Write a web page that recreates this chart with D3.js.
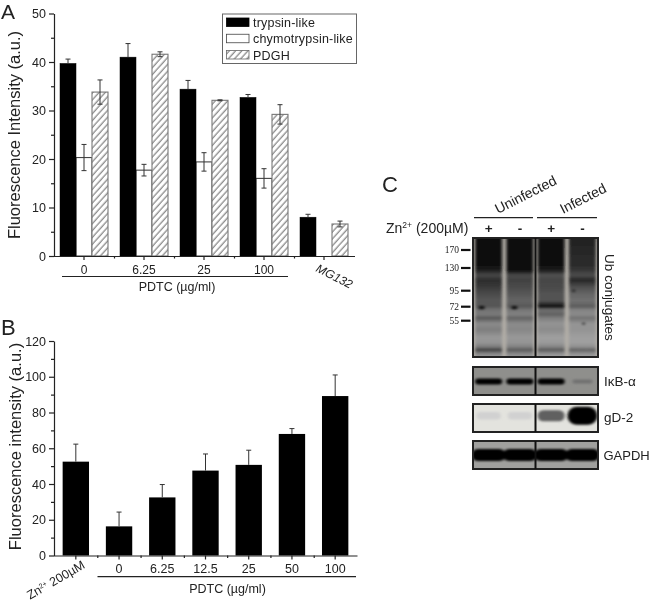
<!DOCTYPE html>
<html>
<head>
<meta charset="utf-8">
<script src="https://cdn.jsdelivr.net/npm/d3@7"></script>
<style>
	html, body { margin: 0; padding: 0; background: #fff; }
	svg { display: block; filter: blur(0.4px); }
	text { font-family: "Liberation Sans", Arial, sans-serif; fill: #222; }
	.domain, .tick line { stroke: #222; stroke-width: 1.2; }
</style>
</head>
<body>
<div id="chart"></div>
<script>
"use strict";

// == panel A data ==
var groupsA = ["0", "6.25", "25", "100", "MG132"];
var seriesA = ["trypsin-like", "chymotrypsin-like", "PDGH"];
var trypsin = [39.7, 41, 34.4, 32.7, 8];
var trypsinErr = [0.9, 2.8, 1.8, 0.6, 0.6];
var chymo = [20.3, 17.7, 19.4, 16, null]; // no white bar for MG132
var chymoErr = [2.7, 1.2, 1.9, 2, null];
var pdgh = [33.8, 41.6, 32.1, 29.2, 6.6];
var pdghErr = [2.5, 0.5, 0.1, 2, 0.6];

// == panel B data ==
var groupsB = ["Zn2+", "0", "6.25", "12.5", "25", "50", "100"];
var valuesB = [52.5, 16.3, 32.5, 47.5, 50.7, 68, 89.2];
var errB = [9.8, 8, 7.2, 9.3, 8.2, 3, 11.8];

// == panel C data ==
var lanes = ["U+", "U-", "I+", "I-"];
var laneSigns = ["+", "-", "+", "-"];
var markers = [170, 130, 95, 72, 55];
// signal darkness (0-1) down each lane of the Ub blot, read at these sizes in kDa
var ubKda = [205, 170, 135, 125, 118, 110, 100, 90, 80, 72, 68, 62, 58, 52, 46, 40, 36, 33, 31.5, 29, 27];
var ubLane1 = [.98, .96, .94, .88, .68, .82, .76, .68, .62, .62, .5, .46, .62, .38, .44, .32, .34, .47, .74, .38, .32];
var ubLane2 = [.97, .97, .97, .96, .68, .72, .68, .62, .56, .62, .48, .42, .57, .38, .4, .32, .34, .44, .62, .38, .32];
var ubLane3 = [.98, .97, .95, .88, .64, .7, .68, .64, .64, .97, .5, .58, .44, .34, .38, .29, .31, .42, .62, .34, .29];
var ubLane4 = [.88, .84, .82, .76, .66, .85, .66, .56, .5, .6, .42, .38, .5, .34, .34, .29, .29, .37, .58, .34, .29];
// small dark spots on the Ub blot
var spotLanes = ["U+", "U-", "I-", "I-"];
var spotKda = [71, 71, 95, 52];
var spotAcross = [0.22, 0.28, 0.15, 0.55];
var ikb = [0.95, 0.95, 0.95, 0.18];
var gd2 = [0.07, 0.06, 0.5, 1];
var gapdh = [1, 1, 1, 1];

var svg = d3.select("#chart").append("svg")
	.attr("width", 650)
	.attr("height", 605);

var defs = svg.append("defs");

// hatch for the PDGH bars
var hatch = defs.append("pattern")
	.attr("id", "hatch")
	.attr("patternUnits", "userSpaceOnUse")
	.attr("width", 4.6)
	.attr("height", 4.6)
	.attr("patternTransform", "rotate(-48)");
hatch.append("rect").attr("width", 4.6).attr("height", 4.6).attr("fill", "#fff");
hatch.append("line")
	.attr("x1", 0).attr("x2", 4.6)
	.attr("y1", 2).attr("y2", 2)
	.attr("stroke", "#555")
	.attr("stroke-width", 0.9);

defs.append("filter").attr("id", "smear")
	.attr("x", "-10%").attr("y", "-10%").attr("width", "120%").attr("height", "120%")
	.append("feGaussianBlur").attr("stdDeviation", "1.6 0.9");
defs.append("filter").attr("id", "band")
	.attr("x", "-30%").attr("y", "-60%").attr("width", "160%").attr("height", "220%")
	.append("feGaussianBlur").attr("stdDeviation", "1.4 1.1");

function yAxis(g, y, major, minor) {
	g.call(d3.axisLeft(y).tickValues(major).tickSize(5).tickSizeOuter(0).tickPadding(3));
	g.selectAll(".tick text").attr("font-size", 12.5);
	g.append("g").call(d3.axisLeft(y).tickValues(minor).tickSize(3).tickFormat(""))
		.select(".domain").remove();
}

// == panel A ==
var xA = d3.scaleBand().domain(groupsA).range([54, 354]).paddingInner(0.2).paddingOuter(0.1);
var xInner = d3.scaleBand().domain(seriesA).range([0, xA.bandwidth()]);
var yA = d3.scaleLinear().domain([0, 50]).range([256, 13.5]);

function drawSeries(name, values, errs, fill, edge) {
	var rows = values.map(function (v, i) { return { group: groupsA[i], v: v, e: errs[i] }; })
		.filter(function (d) { return d.v !== null; });
	var g = svg.append("g");
	g.selectAll("rect").data(rows).enter().append("rect")
		.attr("x", function (d) { return xA(d.group) + xInner(name); })
		.attr("y", function (d) { return yA(d.v); })
		.attr("width", xInner.bandwidth())
		.attr("height", function (d) { return yA(0) - yA(d.v); })
		.attr("fill", fill)
		.attr("stroke", edge)
		.attr("stroke-width", edge === "#000" ? 0.5 : 1.1);
	errorBars(g, rows, function (d) { return xA(d.group) + xInner(name) + xInner.bandwidth() / 2; }, yA);
}

// vertical stem with caps, both directions (the black bars hide the lower half)
function errorBars(g, rows, cx, y) {
	var e = g.selectAll("g.err").data(rows).enter().append("g").attr("class", "err")
		.attr("stroke", "#333").attr("stroke-width", 1);
	e.append("line")
		.attr("x1", cx).attr("x2", cx)
		.attr("y1", function (d) { return y(d.v + d.e); })
		.attr("y2", function (d) { return y(d.v); });
	e.append("line")
		.attr("x1", function (d) { return cx(d) - 2.5; }).attr("x2", function (d) { return cx(d) + 2.5; })
		.attr("y1", function (d) { return y(d.v + d.e); })
		.attr("y2", function (d) { return y(d.v + d.e); });
}

function lowerBars(name, values, errs) {
	var rows = values.map(function (v, i) { return { group: groupsA[i], v: v, e: errs[i] }; })
		.filter(function (d) { return d.v !== null; });
	var cx = function (d) { return xA(d.group) + xInner(name) + xInner.bandwidth() / 2; };
	var e = svg.append("g").selectAll("g").data(rows).enter().append("g")
		.attr("stroke", "#333").attr("stroke-width", 1);
	e.append("line")
		.attr("x1", cx).attr("x2", cx)
		.attr("y1", function (d) { return yA(d.v); })
		.attr("y2", function (d) { return yA(d.v - d.e); });
	e.append("line")
		.attr("x1", function (d) { return cx(d) - 2.5; }).attr("x2", function (d) { return cx(d) + 2.5; })
		.attr("y1", function (d) { return yA(d.v - d.e); })
		.attr("y2", function (d) { return yA(d.v - d.e); });
}

drawSeries("chymotrypsin-like", chymo, chymoErr, "#fff", "#444");
drawSeries("trypsin-like", trypsin, trypsinErr, "#000", "#000");
drawSeries("PDGH", pdgh, pdghErr, "url(#hatch)", "#777");
lowerBars("chymotrypsin-like", chymo, chymoErr);
lowerBars("PDGH", pdgh, pdghErr);

svg.append("g").attr("transform", "translate(54,0)")
	.call(yAxis, yA, d3.range(0, 51, 10), d3.range(5, 50, 10));

var axisA = svg.append("g").attr("transform", "translate(0,256)")
	.call(d3.axisBottom(xA).tickSize(4).tickSizeOuter(0).tickPadding(5));
axisA.select(".domain").attr("d", "M54,0.5H355");
axisA.selectAll(".tick text").attr("font-size", 12);
axisA.selectAll(".tick")
	.filter(function (d) { return d === "MG132"; })
	.select("text")
	.attr("text-anchor", "start")
	.attr("font-style", "italic")
	.attr("x", 0).attr("y", 0).attr("dy", 0)
	.attr("transform", "translate(-9,15) rotate(27)");

// minor ticks between the groups
var minorA = d3.scaleLinear().domain([0, groupsA.length]).range([54, 354]);
svg.append("g").attr("transform", "translate(0,256)")
	.call(d3.axisBottom(minorA).tickValues(d3.range(1, groupsA.length)).tickSize(2.5).tickFormat(""))
	.select(".domain").remove();

svg.append("line")
	.attr("x1", xA("0") + 2).attr("x2", xA("100") + xA.bandwidth())
	.attr("y1", 276.5).attr("y2", 276.5)
	.attr("stroke", "#222").attr("stroke-width", 1.2);
svg.append("text").attr("x", 177).attr("y", 291).attr("text-anchor", "middle")
	.attr("font-size", 12.5).text("PDTC (µg/ml)");
svg.append("text")
	.attr("transform", "translate(20,135) rotate(-90)")
	.attr("text-anchor", "middle")
	.attr("font-size", 16.5)
	.text("Fluorescence Intensity (a.u.)");
svg.append("text").attr("x", 1).attr("y", 19).attr("font-size", 21).text("A");

// legend
var legend = svg.append("g");
legend.append("rect")
	.attr("x", 222.5).attr("y", 14)
	.attr("width", 134).attr("height", 49.5)
	.attr("fill", "#fff").attr("stroke", "#666").attr("stroke-width", 1);
var legendY = d3.scalePoint().domain(seriesA).range([22.5, 55]);
var legendFill = d3.scaleOrdinal().domain(seriesA).range(["#000", "#fff", "url(#hatch)"]);
var legendEdge = d3.scaleOrdinal().domain(seriesA).range(["#000", "#444", "#666"]);
var entry = legend.selectAll("g.entry").data(seriesA).enter().append("g").attr("class", "entry")
	.attr("transform", function (d) { return "translate(0," + legendY(d) + ")"; });
entry.append("rect")
	.attr("x", 226.5).attr("y", -4.5)
	.attr("width", 22.5).attr("height", 8.5)
	.attr("fill", legendFill)
	.attr("stroke", legendEdge)
	.attr("stroke-width", 0.8);
entry.append("text")
	.attr("x", 253).attr("y", 4.5)
	.attr("font-size", 12.5)
	.attr("letter-spacing", 0.2)
	.text(function (d) { return d; });

// == panel B ==
var xB = d3.scaleBand().domain(groupsB).range([54, 357]).paddingInner(0.39).paddingOuter(0.2);
var yB = d3.scaleLinear().domain([0, 120]).range([555.5, 341]);
var rowsB = valuesB.map(function (v, i) { return { group: groupsB[i], v: v, e: errB[i] }; });

var gB = svg.append("g");
gB.selectAll("rect").data(rowsB).enter().append("rect")
	.attr("x", function (d) { return xB(d.group); })
	.attr("y", function (d) { return yB(d.v); })
	.attr("width", xB.bandwidth())
	.attr("height", function (d) { return yB(0) - yB(d.v); })
	.attr("fill", "#000");
errorBars(gB, rowsB, function (d) { return xB(d.group) + xB.bandwidth() / 2; }, yB);

svg.append("g").attr("transform", "translate(54,0)")
	.call(yAxis, yB, d3.range(0, 121, 20), d3.range(10, 120, 20));

var axisB = svg.append("g").attr("transform", "translate(0,555.5)")
	.call(d3.axisBottom(xB).tickSize(4).tickSizeOuter(0).tickPadding(5));
axisB.select(".domain").attr("d", "M54,0.5H357.5");
axisB.selectAll(".tick text").attr("font-size", 12.5);
var znTick = axisB.selectAll(".tick").filter(function (d) { return d === "Zn2+"; }).select("text");
znTick.text(null)
	.attr("text-anchor", "end")
	.attr("x", 0).attr("y", 0).attr("dy", 0)
	.attr("transform", "translate(10,12) rotate(-30)");
znTick.append("tspan").text("Zn");
znTick.append("tspan").attr("font-size", 7).attr("dy", -4).text("2+");
znTick.append("tspan").attr("dy", 4).text(" 200µM");

var minorB = d3.scaleLinear().domain([0, groupsB.length]).range([54, 357]);
svg.append("g").attr("transform", "translate(0,555.5)")
	.call(d3.axisBottom(minorB).tickValues(d3.range(1, groupsB.length)).tickSize(2.5).tickFormat(""))
	.select(".domain").remove();

svg.append("line")
	.attr("x1", 97.5).attr("x2", 356)
	.attr("y1", 576.7).attr("y2", 576.7)
	.attr("stroke", "#222").attr("stroke-width", 1.2);
svg.append("text").attr("x", 227.5).attr("y", 593).attr("text-anchor", "middle")
	.attr("font-size", 12.5).text("PDTC (µg/ml)");
svg.append("text")
	.attr("transform", "translate(21,446.5) rotate(-90)")
	.attr("text-anchor", "middle")
	.attr("font-size", 16.5)
	.text("Fluorescence intensity (a.u.)");
svg.append("text").attr("x", 1).attr("y", 335).attr("font-size", 22).text("B");

// == panel C ==
var xLane = d3.scaleBand().domain(lanes).range([473, 598]).paddingInner(0.2).paddingOuter(0.1);
var kdaY = d3.scaleLog().domain(markers).range([250, 268, 290.7, 306.7, 320.7]);
var darkness = d3.scaleLinear().domain([0, 1]).range(["#dedede", "#040404"]);
var ubRows = [ubLane1, ubLane2, ubLane3, ubLane4];
var dividerX = (xLane("U-") + xLane.bandwidth() + xLane("I+")) / 2;

// gradient per lane for the Ub smear
ubRows.forEach(function (row, i) {
	var grad = defs.append("linearGradient")
		.attr("id", "lane" + i)
		.attr("gradientUnits", "userSpaceOnUse")
		.attr("x1", 0).attr("x2", 0)
		.attr("y1", kdaY(ubKda[0])).attr("y2", kdaY(ubKda[ubKda.length - 1]));
	var total = kdaY(ubKda[ubKda.length - 1]) - kdaY(ubKda[0]);
	grad.selectAll("stop").data(row).enter().append("stop")
		.attr("offset", function (d, j) { return (kdaY(ubKda[j]) - kdaY(ubKda[0])) / total; })
		.attr("stop-color", function (d) { return darkness(d); });
});

function blotFrame(name, top, bottom, background) {
	defs.append("clipPath").attr("id", "clip-" + name)
		.append("rect").attr("x", 473).attr("y", top).attr("width", 125).attr("height", bottom - top);
	var g = svg.append("g");
	var inner = g.append("g").attr("clip-path", "url(#clip-" + name + ")");
	inner.append("rect")
		.attr("x", 473).attr("y", top).attr("width", 125).attr("height", bottom - top)
		.attr("fill", background);
	return { outer: g, inner: inner, top: top, bottom: bottom };
}

function blotBorder(b) {
	b.outer.append("rect")
		.attr("x", 473).attr("y", b.top).attr("width", 125).attr("height", b.bottom - b.top)
		.attr("fill", "none").attr("stroke", "#222").attr("stroke-width", 2);
	b.outer.append("line")
		.attr("x1", dividerX).attr("x2", dividerX)
		.attr("y1", b.top).attr("y2", b.bottom)
		.attr("stroke", "#111").attr("stroke-width", 2);
}

var ub = blotFrame("ub", 238, 357, "#b2aea7");
ub.inner.append("g").attr("filter", "url(#smear)")
	.selectAll("rect").data(lanes).enter().append("rect")
	.attr("x", function (d) { return xLane(d) - 1; })
	.attr("y", 232)
	.attr("width", xLane.bandwidth() + 2)
	.attr("height", 130)
	.attr("fill", function (d, i) { return "url(#lane" + i + ")"; });
ub.inner.append("g").attr("filter", "url(#band)")
	.selectAll("ellipse").data(spotLanes).enter().append("ellipse")
	.attr("cx", function (d, i) { return xLane(d) + xLane.bandwidth() * spotAcross[i]; })
	.attr("cy", function (d, i) { return kdaY(spotKda[i]); })
	.attr("rx", function (d, i) { return i < 2 ? 3.2 : 1.2; })
	.attr("ry", function (d, i) { return i < 2 ? 1.8 : 1.2; })
	.attr("fill", darkness(1))
	.attr("opacity", 0.85);
blotBorder(ub);

function blotBands(name, top, bottom, background, values, mid, wide, high, tint) {
	var b = blotFrame(name, top, bottom, background);
	var cy = top + (bottom - top) * mid;
	b.inner.append("g").attr("filter", "url(#band)")
		.selectAll("rect").data(values).enter().append("rect")
		.attr("x", function (d, i) { return xLane(lanes[i]) + xLane.bandwidth() / 2 - wide(d) / 2; })
		.attr("y", function (d) { return cy - high(d) / 2; })
		.attr("width", wide)
		.attr("height", high)
		.attr("rx", function (d) { return high(d) / 2; })
		.attr("fill", tint);
	blotBorder(b);
}

blotBands("ikb", 367, 395, "#8f8f8c", ikb, 0.52,
	function (d) { return d < 0.5 ? 20 : 27; },
	function (d) { return d < 0.5 ? 4 : 6; },
	function (d) { return darkness(d < 0.5 ? 0.5 : 1); });
blotBands("gd2", 404, 432, "#e3e3de", gd2, 0.42,
	d3.scaleLinear().domain([0, 1]).range([24, 30]),
	d3.scaleLinear().domain([0, 0.5, 1]).range([7, 11, 18]),
	function (d) { return darkness(d < 0.1 ? 0.06 : d < 0.8 ? 0.58 : 1); });
blotBands("gapdh", 441, 469, "#a0a09e", gapdh, 0.5,
	function () { return 34; },
	function () { return 12; },
	function () { return darkness(1); });

// marker ladder
var ladder = svg.append("g").selectAll("g").data(markers).enter().append("g")
	.attr("transform", function (d) { return "translate(0," + kdaY(d) + ")"; });
ladder.append("line")
	.attr("x1", 461).attr("x2", 470.5)
	.attr("stroke", "#111").attr("stroke-width", 2.2);
ladder.append("text")
	.attr("x", 459).attr("y", 3.2)
	.attr("text-anchor", "end")
	.attr("font-size", 9.5)
	.style("font-family", "'Liberation Serif', serif")
	.text(function (d) { return d; });

// headers above the blots
svg.append("text").attr("x", 382).attr("y", 192).attr("font-size", 22).text("C");
svg.append("line").attr("x1", 474).attr("x2", 533).attr("y1", 217.7).attr("y2", 217.7)
	.attr("stroke", "#222").attr("stroke-width", 1.2);
svg.append("line").attr("x1", 537).attr("x2", 597).attr("y1", 217.7).attr("y2", 217.7)
	.attr("stroke", "#222").attr("stroke-width", 1.2);
svg.append("text").attr("transform", "translate(498,214) rotate(-27)")
	.attr("font-size", 14).text("Uninfected");
svg.append("text").attr("transform", "translate(563,214) rotate(-27)")
	.attr("font-size", 14).text("Infected");

var zn = svg.append("text").attr("x", 386).attr("y", 232.5).attr("font-size", 14);
zn.append("tspan").text("Zn");
zn.append("tspan").attr("font-size", 8.5).attr("dy", -5).text("2+");
zn.append("tspan").attr("dy", 5).text(" (200µM)");

svg.append("g").selectAll("text").data(lanes).enter().append("text")
	.attr("x", function (d) { return xLane(d) + xLane.bandwidth() / 2; })
	.attr("y", 233)
	.attr("text-anchor", "middle")
	.attr("font-size", 13.5)
	.attr("font-weight", "bold")
	.text(function (d, i) { return laneSigns[i]; });

svg.append("text").attr("transform", "translate(605,254) rotate(90)")
	.attr("font-size", 13.6).text("Ub conjugates");
svg.append("text").attr("x", 604).attr("y", 385.5).attr("font-size", 13.5).text("IκB-α");
svg.append("text").attr("x", 604).attr("y", 422).attr("font-size", 13.5).text("gD-2");
svg.append("text").attr("x", 603.5).attr("y", 459.5).attr("font-size", 13).text("GAPDH");
</script>
</body>
</html>
